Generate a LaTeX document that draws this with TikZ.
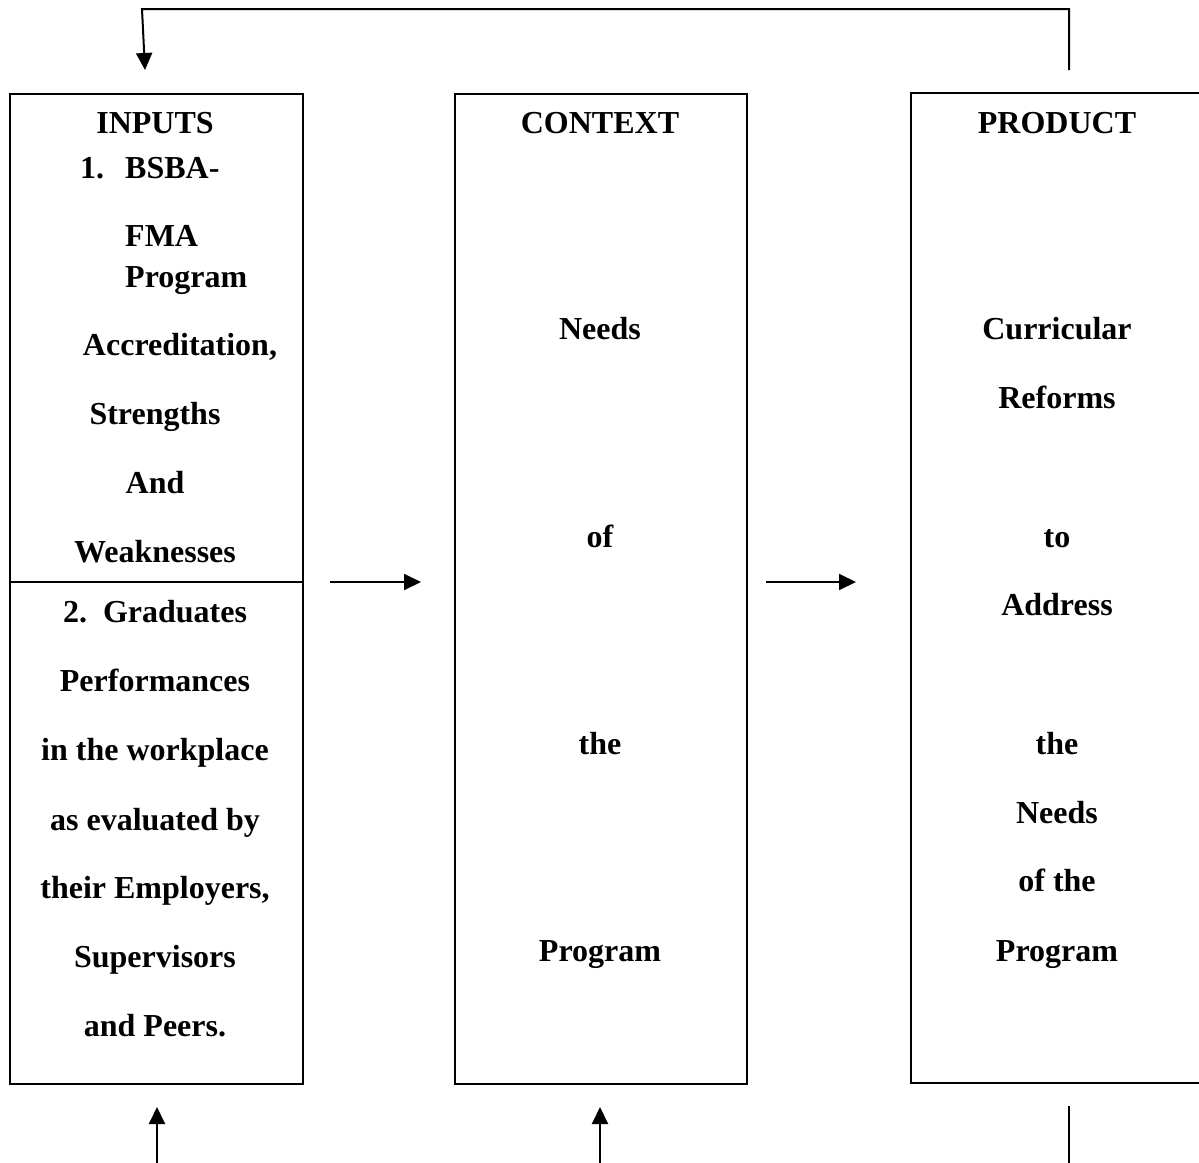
\documentclass[tikz,border=0pt]{standalone}
\usepackage{fontspec}
\setmainfont{Liberation Serif}
\usetikzlibrary{arrows.meta}
\begin{document}
\begin{tikzpicture}[x=1pt,y=-1pt,
  lw/.style={line width=2pt},
  boxline/.style={lw,draw=black},
  arr/.style={lw,-{Triangle[length=17pt,width=16pt]}},
  txt/.style={anchor=base,inner sep=0pt,font=\fontsize{32}{38}\selectfont\bfseries},
  txtw/.style={anchor=base west,inner sep=0pt,font=\fontsize{32}{38}\selectfont\bfseries}]
\useasboundingbox (0,0) rectangle (1199,1162);
% boxes
\node[boxline,anchor=north west,minimum width=293pt,minimum height=990pt,inner sep=0pt] (inputs) at (9,93) {};
\node[boxline,anchor=north west,minimum width=292pt,minimum height=990pt,inner sep=0pt] (context) at (454,93) {};
\coordinate (prodTR) at (1201,93);
\coordinate (prodTL) at (911,93);
\coordinate (prodBL) at (911,1083);
\coordinate (prodBR) at (1201,1083);
\draw[lw] (prodTR) -- (prodTL) -- (prodBL) -- (prodBR);
\draw[lw] (inputs.west |- 0,582) coordinate (divL) -- (inputs.east |- 0,582) coordinate (divR);
% inputs text
\node[txt] (t1) at (155,133) {INPUTS};
\node[txtw] (n1) at (80,178) {1.};
\node[txtw] (t2) at (125,178) {BSBA-};
\node[txtw] (t3) at (125,246) {FMA};
\node[txtw] (t4) at (125,287) {Program};
\node[txt] (t5) at (180,355) {Accreditation,};
\node[txt] (t6) at (155,424) {Strengths};
\node[txt] (t7) at (155,493) {And};
\node[txt] (t8) at (155,562) {Weaknesses};
\node[txt] (t9) at (155,622) {2.\ \ Graduates};
\node[txt] (t10) at (155,691) {Performances};
\node[txt] (t11) at (155,760) {in the workplace};
\node[txt] (t12) at (155,830) {as evaluated by};
\node[txt] (t13) at (155,898) {their Employers,};
\node[txt] (t14) at (155,967) {Supervisors};
\node[txt] (t15) at (155,1036) {and Peers.};
% context text
\node[txt] (c1) at (600,133) {CONTEXT};
\node[txt] (c2) at (600,339) {Needs};
\node[txt] (c3) at (600,547) {of};
\node[txt] (c4) at (600,754) {the};
\node[txt] (c5) at (600,961) {Program};
% product text
\node[txt] (p1) at (1057,133) {PRODUCT};
\node[txt] (p2) at (1057,339) {Curricular};
\node[txt] (p3) at (1057,408) {Reforms};
\node[txt] (p4) at (1057,547) {to};
\node[txt] (p5) at (1057,615) {Address};
\node[txt] (p6) at (1057,754) {the};
\node[txt] (p7) at (1057,823) {Needs};
\node[txt] (p8) at (1057,891) {of the};
\node[txt] (p9) at (1057,961) {Program};
% connectors
\coordinate (fbStart) at (1069,70);
\coordinate (fbEnd) at (145,70);
\draw[arr] (fbStart) -- (1069,9) -- (142,9) -- (fbEnd);
\coordinate (a1s) at (330,582);
\coordinate (a1e) at (421,582);
\draw[arr] (a1s) -- (a1e);
\coordinate (a2s) at (766,582);
\coordinate (a2e) at (856,582);
\draw[arr] (a2s) -- (a2e);
\coordinate (b1s) at (157,1163);
\coordinate (b1e) at (157,1107);
\draw[arr] (b1s) -- (b1e);
\coordinate (b2s) at (600,1163);
\coordinate (b2e) at (600,1107);
\draw[arr] (b2s) -- (b2e);
\coordinate (b3s) at (1069,1163);
\coordinate (b3e) at (1069,1106);
\draw[lw] (b3s) -- (b3e);
\end{tikzpicture}
\end{document}
